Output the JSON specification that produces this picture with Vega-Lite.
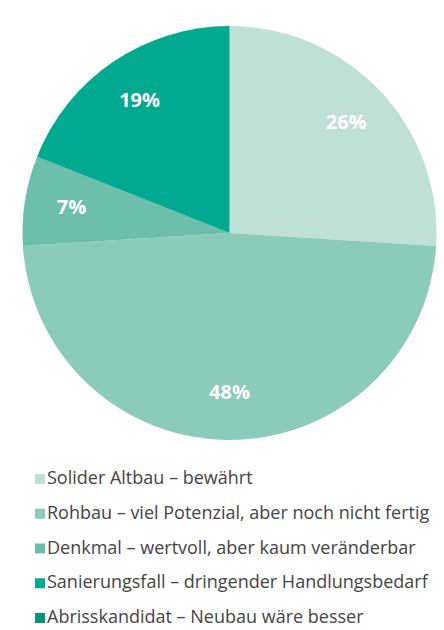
{
  "$schema": "https://vega.github.io/schema/vega-lite/v6.json",
  "background": "white",
  "padding": {"left": 15, "top": 12, "right": 0, "bottom": 0},
  "spacing": 0,
  "data": {
    "values": [
      {"category": "Solider Altbau – bewährt", "value": 0.26, "rank": 1},
      {"category": "Rohbau – viel Potenzial, aber noch nicht fertig", "value": 0.48, "rank": 2},
      {"category": "Denkmal – wertvoll, aber kaum veränderbar", "value": 0.07, "rank": 3},
      {"category": "Sanierungsfall – dringender Handlungsbedarf", "value": 0.19, "rank": 4},
      {"category": "Abrisskandidat – Neubau wäre besser", "value": 0.0, "rank": 5}
    ]
  },
  "vconcat": [
    {
      "width": 429,
      "height": 442,
      "encoding": {
        "theta": {"field": "value", "type": "quantitative", "stack": true},
        "order": {"field": "rank", "type": "quantitative", "sort": "ascending"},
        "color": {
          "field": "category",
          "type": "nominal",
          "scale": {
            "domain": ["Solider Altbau – bewährt", "Rohbau – viel Potenzial, aber noch nicht fertig", "Denkmal – wertvoll, aber kaum veränderbar", "Sanierungsfall – dringender Handlungsbedarf", "Abrisskandidat – Neubau wäre besser"],
            "range": ["#bfe0d6", "#8acbba", "#6cc0ab", "#00a98f", "#00937a"]
          },
          "legend": null
        }
      },
      "layer": [
        {"mark": {"type": "arc", "radius": 207}},
        {
          "transform": [{"filter": "datum.value > 0"}],
          "mark": {"type": "text", "radius": 160, "font": "Open Sans", "fontWeight": "bold", "fontSize": 20},
          "encoding": {
            "text": {"field": "value", "type": "quantitative", "format": ".0%"},
            "color": {"value": "white"}
          }
        }
      ]
    },
    {
      "width": 429,
      "height": 176,
      "mark": {"type": "arc", "radius": 0},
      "encoding": {
        "color": {
          "field": "category",
          "type": "nominal",
          "scale": {
            "domain": ["Solider Altbau – bewährt", "Rohbau – viel Potenzial, aber noch nicht fertig", "Denkmal – wertvoll, aber kaum veränderbar", "Sanierungsfall – dringender Handlungsbedarf", "Abrisskandidat – Neubau wäre besser"],
            "range": ["#bfe0d6", "#8acbba", "#6cc0ab", "#00a98f", "#00937a"]
          },
          "legend": {
            "orient": "top-left",
            "offset": 16,
            "padding": 0,
            "title": null,
            "symbolType": "square",
            "symbolSize": 100,
            "symbolStrokeWidth": 0,
            "symbolOpacity": 1,
            "labelFont": "Open Sans",
            "labelFontSize": 18,
            "labelColor": "#444444",
            "labelOffset": -2,
            "labelLimit": 0,
            "rowPadding": 16.75
          }
        }
      }
    }
  ],
  "resolve": {"legend": {"color": "independent"}},
  "config": {"view": {"fill": "#e6f3f0", "stroke": null}}
}
